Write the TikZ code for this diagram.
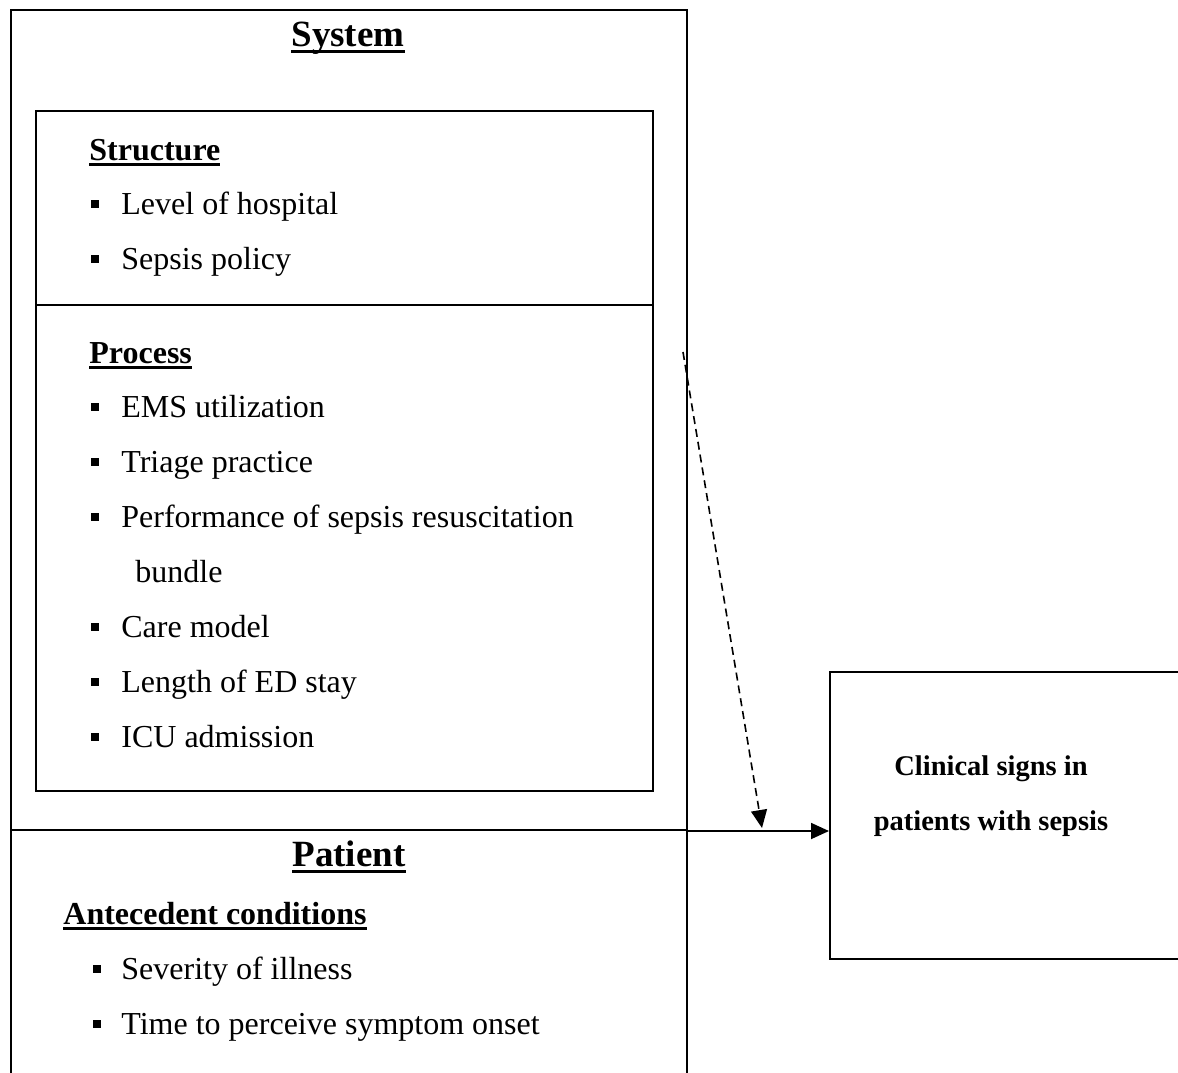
\documentclass[tikz,border=0pt]{standalone}
\usepackage{fontspec}
\setmainfont{Liberation Serif}
\usetikzlibrary{shapes, arrows.meta, positioning}

% underlined heading, thick rule
\newcommand{\ulhead}[1]{\setbox0=\hbox{#1}\rlap{\rule[-0.18em]{\wd0}{0.075em}}\box0}

\begin{document}
\begin{tikzpicture}[x=0.5pt, y=-0.5pt,
    panel/.style={draw, line width=1pt, inner sep=0pt, anchor=north west},
    item/.style={anchor=base west, inner sep=0pt, font=\fontsize{16}{19}\selectfont},
    head/.style={anchor=base west, inner sep=0pt, font=\fontsize{16}{19}\selectfont\bfseries},
    title/.style={anchor=base, inner sep=0pt, font=\fontsize{18.5}{22}\selectfont\bfseries},
    sign/.style={anchor=base, inner sep=0pt, font=\fontsize{14.25}{17}\selectfont\bfseries},
    sq/.style={fill, minimum size=4pt, inner sep=0pt},
    link/.style={line width=0.9pt, -{Triangle[length=9pt, width=8pt]}}]
        \clip (0,0) rectangle (1178,1072);

        % System
        \node[panel, minimum width=338pt, minimum height=410pt] (system) at (10,9) {};
        \node[title] (systitle) at (348,46) {\ulhead{System}};
        \node[panel, minimum width=308.5pt, minimum height=340pt] (inner) at (35,110) {};
        \coordinate (split) at (0,305);
        \draw[line width=1pt] (inner.west |- split) -- (inner.east |- split);

        % Structure
        \node[head] (struct) at (89,160) {\ulhead{Structure}};
        \foreach \y/\t [count=\i] in {214/Level of hospital, 269/Sepsis policy} {
            \node[sq] (sb\i) at (95,\y-10) {};
            \node[item] (st\i) at (121,\y) {\t};
        }

        % Process
        \node[head] (proc) at (89,363) {\ulhead{Process}};
        \foreach \y/\t [count=\i] in {417/EMS utilization, 472/Triage practice,
                527/Performance of sepsis resuscitation, 637/Care model,
                692/Length of ED stay, 747/ICU admission} {
            \node[sq] (pb\i) at (95,\y-10) {};
            \node[item] (pt\i) at (121,\y) {\t};
        }
        \node[item] (bundle) at (135,582) {bundle};

        % Patient
        \node[panel, minimum width=338pt, minimum height=135pt] (patient) at (10,829) {};
        \node[title] (pattitle) at (349,866) {\ulhead{Patient}};
        \node[head] (ante) at (63,924) {\ulhead{Antecedent conditions}};
        \foreach \y/\t [count=\i] in {979/Severity of illness, 1034/Time to perceive symptom onset} {
            \node[sq] (ab\i) at (97,\y-10) {};
            \node[item] (at\i) at (121,\y) {\t};
        }

        % Outcome
        \node[panel, minimum width=185pt, minimum height=143.5pt] (clin) at (829,671) {};
        \node[sign] (sign1) at (991,775) {Clinical signs in};
        \node[sign] (sign2) at (991,830) {patients with sepsis};

        % arrows
        \draw[link] (system.south east) -- (system.south east -| clin.west);
        \coordinate (dashtop) at (683,352);
        \coordinate (dashend) at (762,828);
        \draw[link, line width=0.8pt, dash pattern=on 4pt off 2.5pt] (dashtop) -- (dashend);
\end{tikzpicture}
\end{document}
